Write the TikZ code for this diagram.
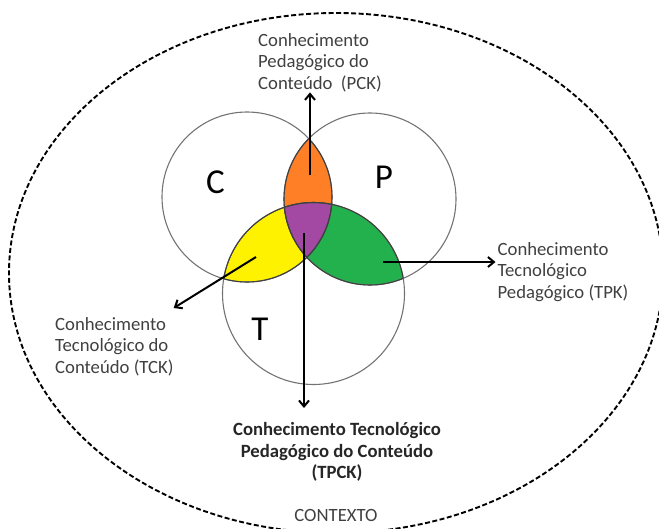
\documentclass[tikz,border=0pt]{standalone}
\usepackage{fontspec}
\setmainfont{Carlito}
\usepackage{tikz}
\usetikzlibrary{arrows.meta}
\definecolor{lensorange}{RGB}{255,127,39}
\definecolor{lensyellow}{RGB}{255,242,0}
\definecolor{lensgreen}{RGB}{34,177,76}
\definecolor{lenspurple}{RGB}{163,73,164}
\definecolor{labelgray}{RGB}{64,64,64}
\newcommand{\circleC}{(247,197) circle (85pt)}
\newcommand{\circleP}{(370,199) circle (86pt)}
\newcommand{\circleT}{(313.5,293.5) circle (91pt)}

\begin{document}
\begin{tikzpicture}[x=1pt,y=-1pt,
    lbl/.style={text=labelgray,inner sep=0pt,align=left,font=\fontsize{18.7}{21.7}\selectfont},
    arr/.style={line width=2pt,-{Straight Barb[length=6pt,width=10pt]}},
    ring/.style={draw=black!55,line width=1.1pt},
    edge/.style={draw=black!75,line width=1.1pt},
    letter/.style={text=black,font=\fontsize{35}{35}\selectfont}]
          \useasboundingbox (0,0) rectangle (659,528);
          \clip (0,0) rectangle (659,528);
          % Draw dashed context ellipse
          \draw[line width=1.9pt,dash pattern=on 5pt off 2.5pt] (336,273) ellipse [x radius=327pt, y radius=260pt];
          % Fill the overlaps
          \begin{scope}
            \clip \circleC;
            \fill[lensorange] \circleP;
            \fill[lensyellow] \circleT;
          \end{scope}
          \begin{scope}
            \clip \circleP;
            \fill[lensgreen] \circleT;
          \end{scope}
          \begin{scope}
            \clip \circleC;
            \clip \circleP;
            \fill[lenspurple] \circleT;
          \end{scope}
          % Draw the three circles (C, P, T)
          \draw[ring] \circleC;
          \draw[ring] \circleP;
          \draw[ring] \circleT;
          % Dark edges of the overlaps
          \begin{scope}
            \clip \circleC;
            \draw[edge] \circleP;
            \draw[edge] \circleT;
          \end{scope}
          \begin{scope}
            \clip \circleP;
            \draw[edge] \circleC;
            \draw[edge] \circleT;
          \end{scope}
          \begin{scope}
            \clip \circleT;
            \draw[edge] \circleC;
            \draw[edge] \circleP;
          \end{scope}
          % Letters
          \node[letter] (letterC) at (215.5,182.5) {C};
          \node[letter] (letterP) at (384,177.5) {P};
          \node[letter] (letterT) at (260,329) {T};
          % Labels
          \node[lbl,anchor=north west] (pck) at (258,33) {Conhecimento\\Pedagógico do\\Conteúdo~ (PCK)};
          \node[lbl,anchor=north west] (tck) at (55,317) {Conhecimento\\Tecnológico do\\Conteúdo (TCK)};
          \node[lbl,anchor=north west] (tpk) at (497.5,242) {Conhecimento\\Tecnológico\\Pedagógico (TPK)};
          \node[lbl,anchor=north,align=center,text=black!85,font=\fontsize{18.7}{21.7}\selectfont\bfseries] (tpck) at (337,422) {Conhecimento Tecnológico\\Pedagógico do Conteúdo\\(TPCK)};
          \node[lbl,anchor=base] (ctx) at (336,521.7) {CONTEXTO};
          % Arrows
          \coordinate (orangept) at (310,175);
          \coordinate (yellowpt) at (256,257);
          \coordinate (greenpt) at (383,262);
          \coordinate (purplept) at (304,233);
          \draw[arr] (orangept) -- (orangept |- pck.south);
          \draw[arr] (yellowpt) -- ([yshift=9pt]tck.north east);
          \draw[arr,shorten >=2pt] (greenpt) -- (greenpt -| tpk.west);
          \draw[arr,shorten >=14pt] (purplept) -- (purplept |- tpck.north);
        \end{tikzpicture}
\end{document}
